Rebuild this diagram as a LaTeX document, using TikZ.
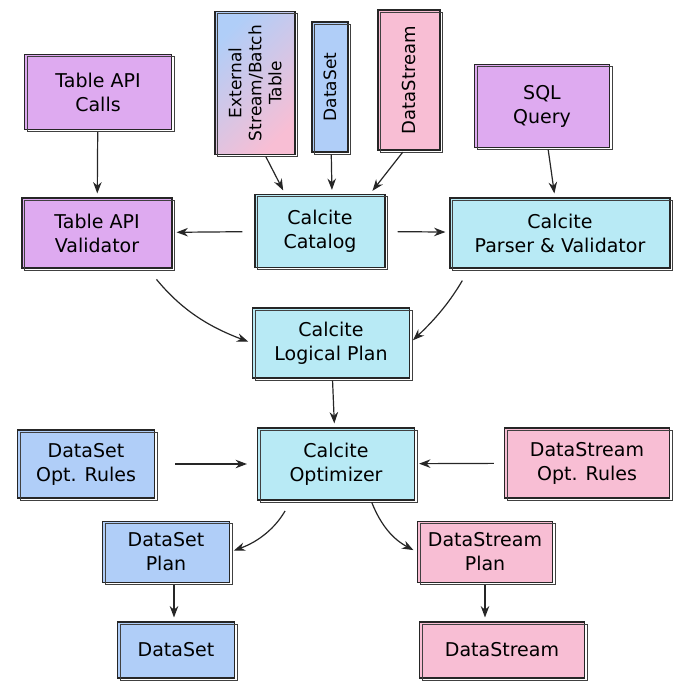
\documentclass[tikz,border=0pt]{standalone}
\usepackage{fontspec}
\setmainfont{DejaVu Sans}
\usetikzlibrary{arrows.meta,positioning,shadings}
\definecolor{skpurple}{RGB}{222,170,240}
\definecolor{skcyan}{RGB}{184,234,245}
\definecolor{skblue}{RGB}{176,206,248}
\definecolor{skpink}{RGB}{248,190,212}
\tikzset{
  sk/.style     = {draw=black!85, line width=1.1pt, align=center, inner sep=2pt,
                   font=\fontsize{19}{24}\selectfont,
                   postaction={draw=black!75, line width=0.7pt,
                     transform canvas={xshift=2.5pt,yshift=-2pt}}},
  purp/.style   = {sk, fill=skpurple},
  cyanb/.style  = {sk, fill=skcyan},
  blueb/.style  = {sk, fill=skblue},
  pinkb/.style  = {sk, fill=skpink},
  arr/.style    = {-{Stealth[length=4mm,width=3mm]}, line width=1.2pt, black!85,
                   shorten <=2pt, shorten >=4pt},
}

\begin{document}
\begin{tikzpicture}[x=1pt,y=-1pt]
  \useasboundingbox (0,0) rectangle (674,682);
  % inputs
  \node[purp, minimum width=147, minimum height=75] (calls) at (98,92) {Table API\\Calls};
  \node[sk, left color=skblue, right color=skpink, shading angle=45, rotate=90,
        minimum width=143, minimum height=80, font=\fontsize{17}{20}\selectfont]
        (exttab) at (255,83) {External\\Stream/Batch\\Table};
  \node[blueb, rotate=90, minimum width=130, minimum height=36,
        font=\fontsize{17}{18}\selectfont] (dsin) at (330,87) {DataSet};
  \node[pinkb, rotate=90, minimum width=140, minimum height=62,
        font=\fontsize{18}{20}\selectfont] (dstin) at (409,80) {DataStream};
  \node[purp, minimum width=135, minimum height=83] (sql) at (542,106) {SQL\\Query};
  % validation
  \node[purp, minimum width=150, minimum height=70] (tval) at (97,233) {Table API\\Validator};
  \node[cyanb, minimum width=130, minimum height=73] (catalog) at (320,231) {Calcite\\Catalog};
  \node[cyanb, minimum width=220, minimum height=70] (parser) at (560,233) {Calcite\\Parser \& Validator};
  \node[cyanb, minimum width=157, minimum height=70] (logical) at (331,343) {Calcite\\Logical Plan};
  % optimization
  \node[blueb, minimum width=137, minimum height=68] (dsrules) at (86,464) {DataSet\\Opt. Rules};
  \node[cyanb, minimum width=157, minimum height=72] (optim) at (336,464) {Calcite\\Optimizer};
  \node[pinkb, minimum width=165, minimum height=70] (dstrules) at (587,463) {DataStream\\Opt. Rules};
  \node[blueb, minimum width=127, minimum height=61] (dsplan) at (166,552) {DataSet\\Plan};
  \node[pinkb, minimum width=135, minimum height=61] (dstplan) at (485,552) {DataStream\\Plan};
  \node[blueb, minimum width=117, minimum height=56] (dsout) at (176,650) {DataSet};
  \node[pinkb, minimum width=165, minimum height=56] (dstout) at (502,650) {DataStream};

  \draw[arr] (calls) -- (tval);
  \draw[arr] ([xshift=10]exttab.west) -- ([xshift=-35]catalog.north);
  \draw[arr] (dsin) -- ([xshift=12]catalog.north);
  \draw[arr] ([xshift=-5]dstin.west) -- ([xshift=50]catalog.north);
  \draw[arr] (sql) -- (parser);
  \draw[arr, shorten <=12pt] (catalog) -- (tval);
  \draw[arr, shorten <=12pt] (catalog) -- (parser);
  \draw[arr, shorten <=14pt] ([xshift=-25]tval.south east) to[bend right=15] (logical.west);
  \draw[arr, shorten <=14pt] ([xshift=20]parser.south west) to[bend left=8] (logical.east);
  \draw[arr] (logical) -- (optim);
  \draw[arr, shorten <=20pt, shorten >=10pt] (dsrules) -- (optim);
  \draw[arr, shorten <=10pt] (dstrules) -- (optim);
  \draw[arr, shorten <=12pt] ([xshift=-45]optim.south) to[bend left=20] (dsplan.east);
  \draw[arr, shorten <=2pt] ([xshift=35]optim.south) to[bend right=20] (dstplan.west);
  \draw[arr] ([xshift=8]dsplan.south) -- ([xshift=8]dsplan.south |- dsout.north);
  \draw[arr] (dstplan.south) -- (dstplan.south |- dstout.north);
\end{tikzpicture}
\end{document}
